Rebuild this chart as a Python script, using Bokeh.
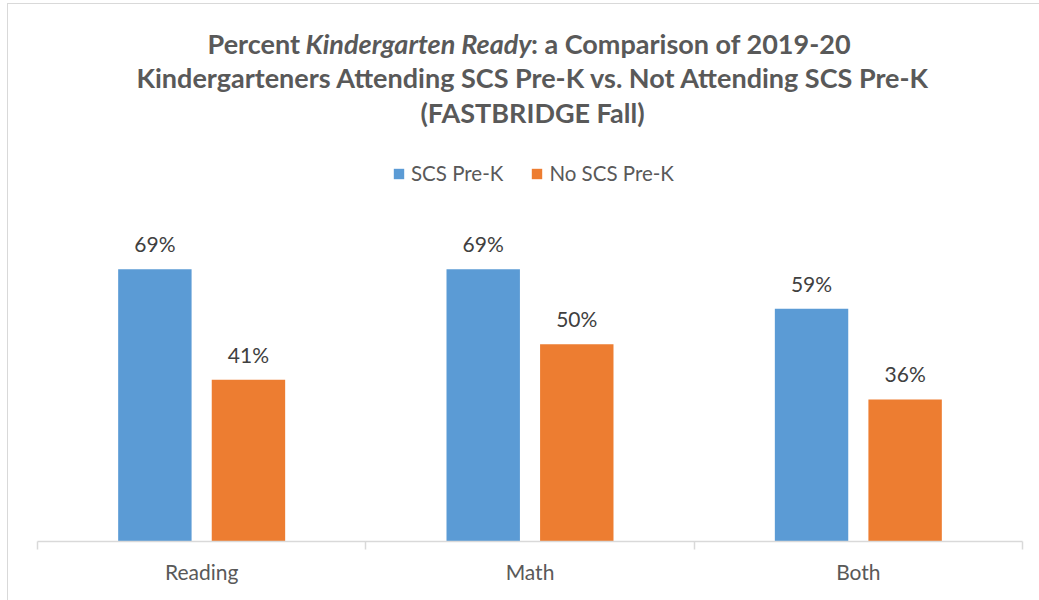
from bokeh.plotting import figure
from bokeh.models import (ColumnDataSource, Range1d, FixedTicker, Legend, LegendItem,
                          LabelSet, Label)
from bokeh.core.properties import value
from bokeh.transform import dodge
from bokeh.embed import file_html
from bokeh.resources import INLINE

categories = ["Reading", "Math", "Both"]
series_names = ["SCS Pre-K", "No SCS Pre-K"]
scs_prek = [69, 69, 59]
no_scs_prek = [41, 50, 36]

BLUE = "#5b9bd5"
ORANGE = "#ed7d31"
TXT = "#595959"
FONT = "Lato"

xc = [i + 0.5 for i in range(len(categories))]
src = ColumnDataSource(dict(
    xc=xc, cat=categories,
    a=scs_prek, b=no_scs_prek,
    la=[f"{v}%" for v in scs_prek], lb=[f"{v}%" for v in no_scs_prek],
))

p = figure(width=1031, height=596, output_backend="svg", toolbar_location=None,
           x_range=Range1d(0, len(categories)), y_range=Range1d(0, 136.1),
           frame_width=985, frame_height=537,
           min_border_left=29, min_border_right=17, min_border_top=0, min_border_bottom=59,
           background_fill_color="white", border_fill_color="white")
p.styles = {"margin-left": "7px", "margin-top": "3px",
            "border-left": "1px solid #d9d9d9", "border-top": "1px solid #d9d9d9"}
p.outline_line_color = None
p.grid.visible = False
p.yaxis.visible = False

off = 0.1425
bw = 0.2236
r1 = p.vbar(x=dodge("xc", -off, range=p.x_range), top="a", width=bw, source=src,
            fill_color=BLUE, line_color=None)
r2 = p.vbar(x=dodge("xc", off, range=p.x_range), top="b", width=bw, source=src,
            fill_color=ORANGE, line_color=None)

for col, lab, dx in (("a", "la", -off), ("b", "lb", off)):
    ls = LabelSet(x=dodge("xc", dx, range=p.x_range), y=col, text=lab, source=src,
                  y_offset=17, text_align="center", text_baseline="alphabetic",
                  text_font=value(FONT), text_font_size=value("21px"),
                  text_color=value("#404040"))
    p.add_layout(ls)

ax = p.xaxis[0]
ax.ticker = FixedTicker(ticks=xc, minor_ticks=list(range(len(categories) + 1)))
ax.major_label_overrides = {x: c for x, c in zip(xc, categories)}
ax.major_tick_line_color = None
ax.major_tick_out = 0
ax.major_tick_in = 0
ax.minor_tick_in = 0
ax.minor_tick_out = 8
ax.minor_tick_line_color = "#d9d9d9"
ax.minor_tick_line_width = 1.5
ax.axis_line_color = "#d9d9d9"
ax.axis_line_width = 1.5
ax.major_label_standoff = 9
ax.major_label_text_font = FONT
ax.major_label_text_font_size = "21px"
ax.major_label_text_color = TXT

legend = Legend(items=[LegendItem(label=series_names[0], renderers=[r1]),
                       LegendItem(label=series_names[1], renderers=[r2])],
                orientation="horizontal", location=(355, 356),
                glyph_width=13, glyph_height=13, label_standoff=6, spacing=27,
                padding=0, margin=0, border_line_color=None, background_fill_alpha=0,
                label_text_font=FONT, label_text_font_size="20.5px", label_text_color=TXT)
p.add_layout(legend, "center")

tkw = dict(x_units="screen", y_units="screen", text_font=FONT, text_font_size="27px",
           text_color=TXT, text_font_style="bold", text_baseline="alphabetic")
y1, y2, y3 = 498, 464.5, 429.5
p.add_layout(Label(x=262.5, y=y1, text="Percent", text_align="right", **tkw))
tk_it = dict(tkw, text_font_style="bold italic")
p.add_layout(Label(x=381, y=y1, text="Kindergarten Ready", text_align="center", **tk_it))
p.add_layout(Label(x=493.5, y=y1, text=": a Comparison of 2019-20", text_align="left", **tkw))
p.add_layout(Label(x=496, y=y2,
                   text="Kindergarteners Attending SCS Pre-K vs. Not Attending SCS Pre-K",
                   text_align="center", **tkw))
p.add_layout(Label(x=495, y=y3, text="(FASTBRIDGE Fall)", text_align="center", **tkw))

open("out.html", "w").write(file_html(p, INLINE))
